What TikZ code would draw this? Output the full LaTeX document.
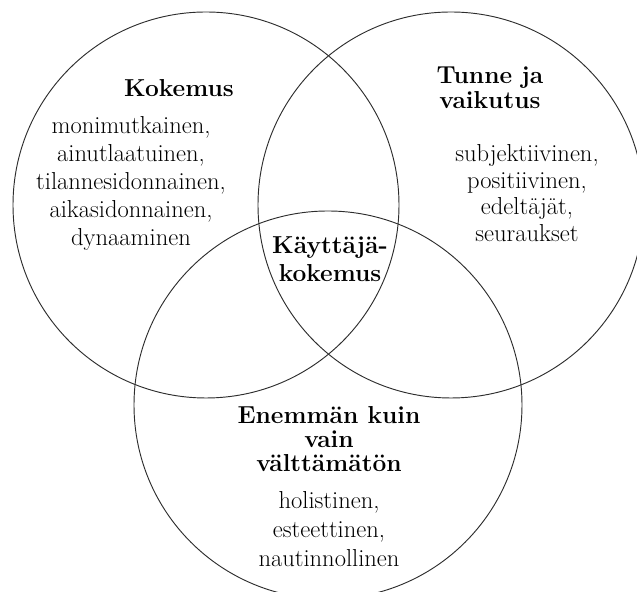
\documentclass[tikz,border=0pt]{standalone}
\usepackage{xcolor}
\definecolor{rim}{RGB}{45, 45, 45}
\usepackage{tikz}

\begin{document}
\begin{tikzpicture}[
  x=0.75pt, y=0.75pt,
  ring/.style={draw=rim, line width=0.7pt},
  head/.style={font=\fontsize{18.4}{19}\selectfont\bfseries, align=center, inner sep=0pt},
  items/.style={font=\fontsize{18.4}{21}\selectfont, align=center, inner sep=0pt}
]
\useasboundingbox (0,0) rectangle (637,592);
\clip (0,0) rectangle (637,592);

\draw[ring] (206,387) circle[radius=193];
\draw[ring] (451,387) circle[radius=193];
\draw[ring] (328,187) circle[radius=194];

\node[head] (kokemus) at (179,504) {Kokemus};
\node[items] (kokemuslist) at (131,409) {monimutkainen,\\ainutlaatuinen,\\tilannesidonnainen,\\aikasidonnainen,\\dynaaminen};
\node[head] (tunne) at (490,504) {Tunne ja\\vaikutus};
\node[items, font=\fontsize{18.4}{20}\selectfont] (tunnelist) at (527,399) {subjektiivinen,\\positiivinen,\\edeltäjät,\\seuraukset};
\node[head, font=\fontsize{18.4}{21}\selectfont\bfseries] (ux) at (330,333) {Käyttäjä-\\kokemus};
\node[head, font=\fontsize{18.4}{18}\selectfont\bfseries] (enemman) at (329,153) {Enemmän kuin\\vain\\välttämätön};
\node[items, font=\fontsize{18.4}{22}\selectfont] (enemmanlist) at (329,63) {holistinen,\\esteettinen,\\nautinnollinen};
\end{tikzpicture}
\end{document}
